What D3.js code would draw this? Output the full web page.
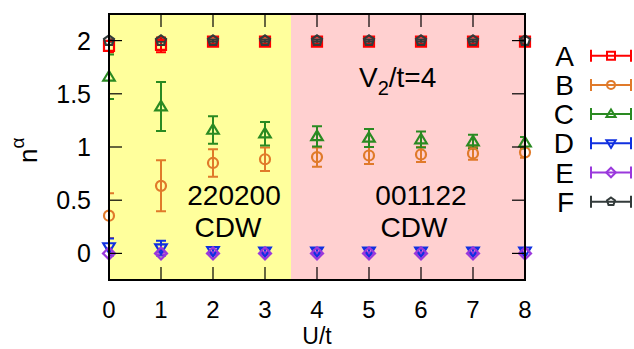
<!DOCTYPE html>
<html>
<head>
<meta charset="utf-8">
<script src="https://cdn.jsdelivr.net/npm/d3@7"></script>
<style>
  body { margin: 0; background: #fff; }
  svg text { font-family: "Liberation Sans", Arial, sans-serif; fill: #000; }
</style>
</head>
<body>
<svg id="chart"></svg>
<script>
// U/t values
const uValues = [0, 1, 2, 3, 4, 5, 6, 7, 8];

// n^alpha for each orbital, with error bars
const nA = [1.95, 1.96, 1.99, 1.99, 1.99, 1.99, 1.99, 1.99, 1.99];
const eA = [0.06, 0.07, 0.02, 0.02, 0.02, 0.02, 0.02, 0.02, 0.02];
const nB = [0.355, 0.635, 0.85, 0.885, 0.905, 0.92, 0.93, 0.94, 0.95];
const eB = [0.21, 0.24, 0.13, 0.11, 0.09, 0.08, 0.07, 0.06, 0.05];
const nC = [1.66, 1.38, 1.16, 1.125, 1.10, 1.085, 1.07, 1.05, 1.04];
const eC = [0.21, 0.23, 0.13, 0.11, 0.095, 0.085, 0.075, 0.065, 0.055];
const nD = [0.06, 0.05, 0.025, 0.02, 0.02, 0.02, 0.02, 0.02, 0.02];
const eD = [0.08, 0.07, 0.035, 0.03, 0.03, 0.03, 0.03, 0.03, 0.03];
const nE = [0, 0, 0, 0, 0, 0, 0, 0, 0];
const eE = [0.01, 0.01, 0.01, 0.01, 0.01, 0.01, 0.01, 0.01, 0.01];
const nF = [2, 2, 2, 2, 2, 2, 2, 2, 2];
const eF = [0.01, 0.01, 0.01, 0.01, 0.01, 0.01, 0.01, 0.01, 0.01];

const seriesNames = ['A', 'B', 'C', 'D', 'E', 'F'];
const xTicks = [0, 1, 2, 3, 4, 5, 6, 7, 8];
const yTicks = [0, 0.5, 1, 1.5, 2];
const phaseSplit = 3.5;

const COLORS = ['#ff0000', '#e07a2a', '#2a8a22', '#1030e0', '#9a38dc', '#333b3b'];
const SHAPES = ['square', 'circle', 'triUp', 'triDown', 'diamond', 'pentagon'];

const width = 634, height = 349;
const margin = { top: 14, right: 109, bottom: 69, left: 109 };

const svg = d3.select('#chart')
  .attr('width', width)
  .attr('height', height)
  .attr('viewBox', `0 0 ${width} ${height}`);

const x = d3.scaleLinear().domain([0, 8]).range([margin.left, width - margin.right]);
const y = d3.scaleLinear().domain([-0.25, 2.25]).range([height - margin.bottom, margin.top]);

const x0 = x.range()[0], x1 = x.range()[1];
const yTop = y.range()[1], yBot = y.range()[0];

// phase backgrounds
svg.append('rect')
  .attr('x', x(0)).attr('y', yTop)
  .attr('width', x(phaseSplit) - x(0)).attr('height', yBot - yTop)
  .attr('fill', '#ffff9c');
svg.append('rect')
  .attr('x', x(phaseSplit)).attr('y', yTop)
  .attr('width', x(8) - x(phaseSplit)).attr('height', yBot - yTop)
  .attr('fill', '#ffd0d0');

svg.append('defs').append('clipPath').attr('id', 'plot-clip')
  .append('rect').attr('x', x0).attr('y', yTop).attr('width', x1 - x0).attr('height', yBot - yTop);

// marker paths
function markerPath(shape, r) {
  const p = d3.path();
  if (shape === 'square') {
    p.rect(-r, -r, 2 * r, 2 * r);
  } else if (shape === 'circle') {
    p.arc(0, 0, r, 0, 2 * Math.PI);
  } else if (shape === 'triUp' || shape === 'triDown') {
    const s = shape === 'triUp' ? 1 : -1;
    p.moveTo(0, -s * r * 1.15);
    p.lineTo(r * 1.15, s * r * 0.75);
    p.lineTo(-r * 1.15, s * r * 0.75);
    p.closePath();
  } else if (shape === 'diamond') {
    p.moveTo(0, -r * 1.2); p.lineTo(r * 1.2, 0); p.lineTo(0, r * 1.2); p.lineTo(-r * 1.2, 0); p.closePath();
  } else {
    for (let i = 0; i < 5; i++) {
      const a = -Math.PI / 2 + i * 2 * Math.PI / 5;
      const px = Math.cos(a) * r * 1.05, py = Math.sin(a) * r * 1.05;
      if (i === 0) p.moveTo(px, py); else p.lineTo(px, py);
    }
    p.closePath();
  }
  return p.toString();
}

const values = [nA, nB, nC, nD, nE, nF];
const errors = [eA, eB, eC, eD, eE, eF];
const series = seriesNames.map((name, i) => ({
  name, color: COLORS[i], shape: SHAPES[i],
  points: uValues.map((u, j) => ({ u, v: values[i][j], e: errors[i][j] }))
}));

// error bars (clipped to the plot box)
const errG = svg.append('g').attr('clip-path', 'url(#plot-clip)');
const cap = 5;
series.forEach(s => {
  const g = errG.append('g').attr('stroke', s.color).attr('stroke-width', 2).attr('fill', 'none');
  g.selectAll('path').data(s.points).join('path')
    .attr('d', d => {
      const cx = x(d.u), ya = y(d.v + d.e), yb = y(d.v - d.e);
      return `M${cx},${ya}V${yb}M${cx - cap},${ya}H${cx + cap}M${cx - cap},${yb}H${cx + cap}`;
    });
});

// markers
series.forEach(s => {
  svg.append('g').selectAll('path').data(s.points).join('path')
    .attr('transform', d => `translate(${x(d.u)},${y(d.v)})`)
    .attr('d', markerPath(s.shape, 5))
    .attr('fill', 'none')
    .attr('stroke', s.color)
    .attr('stroke-width', 2.2);
});

// inner ticks, mirrored on all sides
const tickLen = 13;
const tickG = svg.append('g').attr('stroke', '#000').attr('stroke-width', 1.2);
xTicks.forEach(t => {
  tickG.append('line').attr('x1', x(t)).attr('x2', x(t)).attr('y1', yBot).attr('y2', yBot - tickLen);
  tickG.append('line').attr('x1', x(t)).attr('x2', x(t)).attr('y1', yTop).attr('y2', yTop + tickLen);
});
yTicks.forEach(t => {
  tickG.append('line').attr('x1', x0).attr('x2', x0 + tickLen).attr('y1', y(t)).attr('y2', y(t));
  tickG.append('line').attr('x1', x1).attr('x2', x1 - tickLen).attr('y1', y(t)).attr('y2', y(t));
});

// plot border
svg.append('rect')
  .attr('x', x0).attr('y', yTop).attr('width', x1 - x0).attr('height', yBot - yTop)
  .attr('fill', 'none').attr('stroke', '#000').attr('stroke-width', 2);

// tick labels
svg.append('g').selectAll('text').data(xTicks).join('text')
  .attr('x', d => x(d)).attr('y', 318)
  .attr('text-anchor', 'middle').attr('font-size', 24)
  .text(d => d);
svg.append('g').selectAll('text').data(yTicks).join('text')
  .attr('x', 91).attr('y', d => y(d) + 9)
  .attr('text-anchor', 'end').attr('font-size', 25)
  .text(d => d);

// axis titles
svg.append('text')
  .attr('x', 317).attr('y', 344)
  .attr('text-anchor', 'middle').attr('font-size', 23)
  .text('U/t');
const yl = svg.append('text')
  .attr('transform', 'translate(37,163) rotate(-90)')
  .attr('font-size', 26);
yl.append('tspan').text('n');
yl.append('tspan').attr('font-size', 19).attr('dy', -13).text('α');

// annotations
const ann = svg.append('g').attr('font-size', 28).attr('text-anchor', 'middle');
ann.append('text').attr('x', 234).attr('y', 205).text('220200');
ann.append('text').attr('x', 228).attr('y', 237).text('CDW');
ann.append('text').attr('x', 421).attr('y', 205).text('001122');
ann.append('text').attr('x', 414).attr('y', 237).text('CDW');
const v2 = svg.append('text').attr('x', 359).attr('y', 87).attr('font-size', 28);
v2.append('tspan').text('V');
v2.append('tspan').attr('font-size', 20).attr('dy', 8).text('2');
v2.append('tspan').attr('dy', -8).text('/t=4');

// legend
const legY = d3.scalePoint().domain(seriesNames).range([55.7, 201.7]);
const leg = svg.append('g').selectAll('g').data(series).join('g')
  .attr('transform', d => `translate(0,${legY(d.name)})`);
leg.append('text')
  .attr('x', 574).attr('y', 10)
  .attr('text-anchor', 'end').attr('font-size', 28)
  .text(d => d.name);
leg.append('path')
  .attr('d', 'M591,0H631M591,-6V6M631,-6V6')
  .attr('stroke', d => d.color).attr('stroke-width', 2).attr('fill', 'none');
leg.append('path')
  .attr('transform', 'translate(611,0)')
  .attr('d', d => markerPath(d.shape, 4))
  .attr('fill', 'none').attr('stroke', d => d.color).attr('stroke-width', 2);
</script>
</body>
</html>
